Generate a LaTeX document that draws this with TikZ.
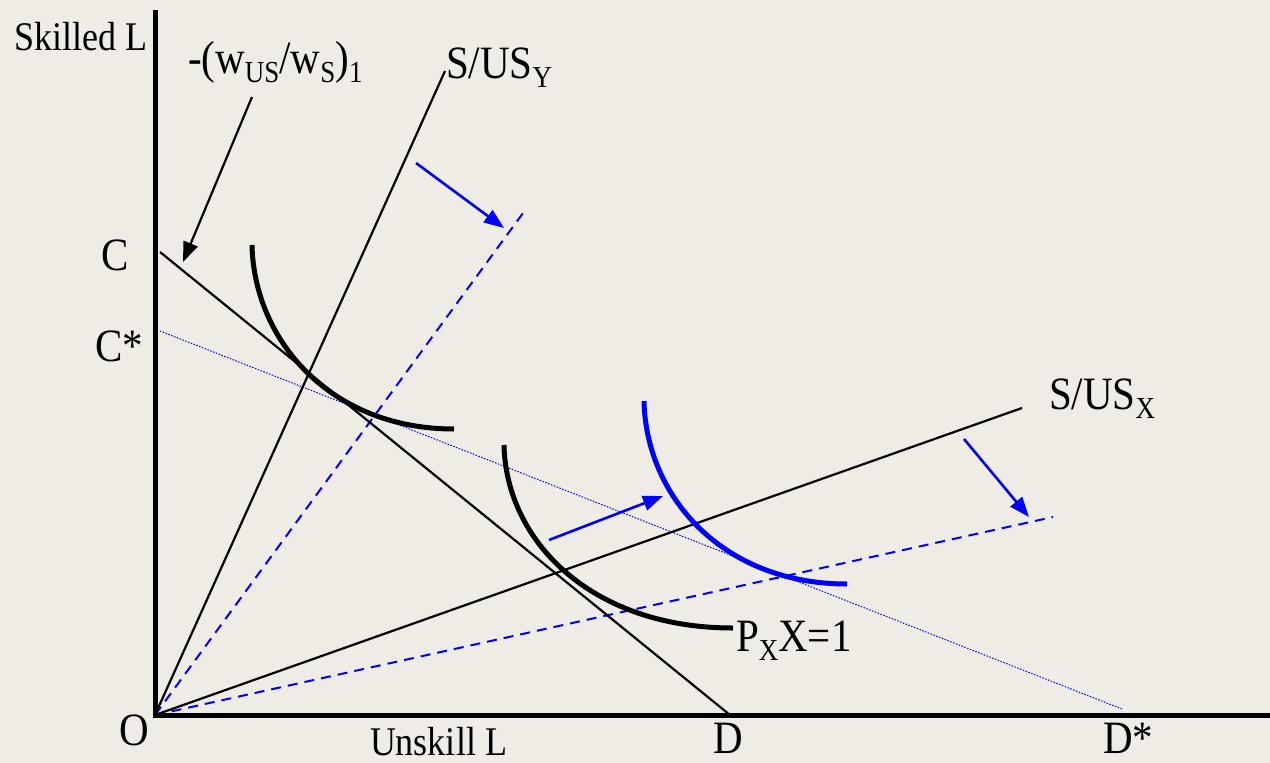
\documentclass[tikz,border=0pt]{standalone}
\usepackage{fontspec}
\setmainfont{Liberation Serif}
\usetikzlibrary{arrows.meta}
\definecolor{bg}{RGB}{238,236,228}
\definecolor{pblue}{RGB}{0,0,255}
\newcommand\lbl[1]{\scalebox{1}[1.13]{\fontsize{41}{48}\selectfont #1}}
\newcommand\axl[1]{\scalebox{1}[1.13]{\fontsize{36}{42}\selectfont #1}}
\newcommand\sbs[1]{\raisebox{-8pt}{\fontsize{27}{30}\selectfont #1}}
\tikzset{
  axis/.style={line width=5pt},
  thinline/.style={line width=2.2pt},
  iso/.style={line width=5pt},
  bluedash/.style={pblue,line width=2pt,dash pattern=on 10pt off 7pt},
  bluedot/.style={pblue,line width=1pt,dash pattern=on 1.5pt off 1.5pt},
  blkarrow/.style={line width=2.2pt,-{Triangle[length=20pt,width=15pt]}},
  bluearrow/.style={pblue,line width=2.6pt,-{Triangle[length=20pt,width=15pt]}},
  txt/.style={anchor=base west,inner sep=0pt,outer sep=0pt}
}
\begin{document}
\begin{tikzpicture}[x=1pt,y=-1pt]
\fill[bg] (0,0) rectangle (1270,763);
\useasboundingbox (0,0) rectangle (1270,763);
% coordinates
\coordinate (O) at (155,715);
\coordinate (ytop) at (155,10);
\coordinate (xend) at (1270,715);
\coordinate (Cp) at (160,252);
\coordinate (Dp) at (730,715);
\coordinate (Csp) at (160,331);
\coordinate (Dsp) at (1122,709);
\coordinate (Yend) at (445,71);
\coordinate (Ynew) at (526,209);
\coordinate (Xend) at (1022,408);
\coordinate (Xnew) at (1053,517);
\coordinate (a1s) at (252,97);
\coordinate (a1e) at (183,262);
\coordinate (b1s) at (416,163);
\coordinate (b1e) at (504,228);
\coordinate (b2s) at (549,540);
\coordinate (b2e) at (663,496);
\coordinate (b3s) at (964,439);
\coordinate (b3e) at (1029,517);
\coordinate (i1s) at (252,245);
\coordinate (i1e) at (454,429);
\coordinate (i2s) at (504,445);
\coordinate (i2e) at (733,628);
\coordinate (i3s) at (644,401);
\coordinate (i3e) at (847,584);
% thin lines
\draw[bluedot] (Csp) -- (Dsp);
\draw[bluedash] (O) -- (Ynew);
\draw[bluedash] (O) -- (Xnew);
\draw[thinline] (Cp) -- (Dp);
\draw[thinline] (O) -- (Yend);
\draw[thinline] (O) -- (Xend);
% isoquants
\draw[iso] (i1s) .. controls (254,340) and (330,429) .. (i1e);
\draw[iso] (i2s) .. controls (506,540) and (590,628) .. (i2e);
\draw[iso,pblue] (i3s) .. controls (646,496) and (722,584) .. (i3e);
% arrows
\draw[blkarrow] (a1s) -- (a1e);
\draw[bluearrow] (b1s) -- (b1e);
\draw[bluearrow] (b2s) -- (b2e);
\draw[bluearrow] (b3s) -- (b3e);
% axes
\draw[axis] (ytop) -- (155,717.5);
\draw[axis] (152.5,715) -- (xend);
% labels
\node[txt] (tSk) at (14,50) {\axl{Skilled L}};
\node[txt] (tUn) at (370,755) {\axl{Unskill L}};
\node[txt] (tW) at (188,73) {\lbl{-(w\sbs{US}/w\sbs{S})\sbs{1}}};
\node[txt] (tY) at (446,78) {\lbl{S/US\sbs{Y}}};
\node[txt] (tX) at (1049,409) {\lbl{S/US\sbs{X}}};
\node[txt] (tP) at (736,651) {\lbl{P\sbs{X}X=1}};
\node[txt] (tC) at (101,270) {\lbl{C}};
\node[txt] (tCs) at (95,361) {\lbl{C*}};
\node[txt] (tO) at (119,745) {\lbl{O}};
\node[txt] (tD) at (713,753) {\lbl{D}};
\node[txt] (tDs) at (1103,753) {\lbl{D*}};
\end{tikzpicture}
\end{document}
